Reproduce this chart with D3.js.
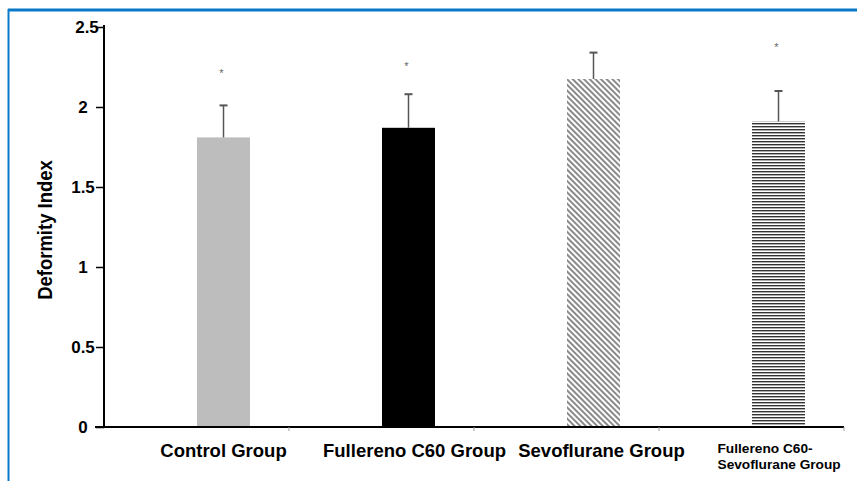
<!DOCTYPE html>
<html>
<head>
<meta charset="utf-8">
<script src="https://cdn.jsdelivr.net/npm/d3@7"></script>
<style>
  body { margin: 0; background: #fff; }
  svg { display: block; }
</style>
</head>
<body>
<svg id="chart" width="857" height="481"></svg>
<script>
// data
var groups = ["Control Group", "Fullereno C60 Group", "Sevoflurane Group", "Fullereno C60-Sevoflurane Group"];
var labelLines = [["Control Group"], ["Fullereno C60 Group"], ["Sevoflurane Group"], ["Fullereno C60-", "Sevoflurane Group"]];
var means = [1.81, 1.87, 2.175, 1.91];
var errors = [0.20, 0.21, 0.165, 0.19];
var starred = [true, true, false, true];
var starY = [2.22, 2.26, null, 2.38];
var yTicks = [0, 0.5, 1, 1.5, 2, 2.5];
var yLabel = "Deformity Index";

var svg = d3.select("#chart");
var W = +svg.attr("width"), H = +svg.attr("height");

// frame (top and left blue rule)
svg.append("line").attr("x1", 8).attr("x2", W).attr("y1", 10).attr("y2", 10)
  .style("stroke", "#0a78c8").style("stroke-width", 3);
svg.append("line").attr("x1", 8.5).attr("x2", 8.5).attr("y1", 9).attr("y2", H)
  .style("stroke", "#0a78c8").style("stroke-width", 2);

var defs = svg.append("defs");
var diag = defs.append("pattern").attr("id", "diag")
  .attr("patternUnits", "userSpaceOnUse").attr("width", 4).attr("height", 4)
  .attr("patternTransform", "rotate(-45)");
diag.append("rect").attr("width", 4).attr("height", 4).attr("fill", "#fff");
diag.append("rect").attr("x", 0).attr("width", 2).attr("height", 4).attr("fill", "#8a8a8a");

var horiz = defs.append("pattern").attr("id", "horiz")
  .attr("patternUnits", "userSpaceOnUse").attr("width", 4).attr("height", 3);
horiz.append("rect").attr("width", 4).attr("height", 3).attr("fill", "#fff");
horiz.append("rect").attr("y", 0).attr("width", 4).attr("height", 1.4).attr("fill", "#333");

var fills = ["#bdbdbd", "#000", "url(#diag)", "url(#horiz)"];

var y = d3.scaleLinear().domain([0, 2.5]).range([427, 27]);
var x = d3.scaleBand().domain(groups).range([131, 871]);
var barW = 53;

var font = "Arial, 'Liberation Sans', sans-serif";

// y axis
var yAxis = svg.append("g").attr("transform", "translate(104,0)")
  .call(d3.axisLeft(y).tickValues(yTicks).tickSize(8)
        .tickFormat(function(d){ return d; }));
yAxis.select(".domain").attr("d", "M0," + (y(2.5) - 2) + "V" + (y(0) + 1))
  .style("stroke", "#000").style("stroke-width", 2);
yAxis.selectAll(".tick line").style("stroke", "#000").style("stroke-width", 1.5);
// labels in the original are roughly centred in a column left of the ticks
yAxis.selectAll(".tick text")
  .attr("x", -21).attr("text-anchor", "middle")
  .style("font-family", font).style("font-size", "17px").style("font-weight", "bold")
  .attr("fill", "#000");
yAxis.selectAll(".tick").filter(function(d){ return d === 2.5; }).select("text").attr("x", -17);

svg.append("text")
  .attr("transform", "translate(52,230) rotate(-90) scale(0.88,1)")
  .attr("text-anchor", "middle")
  .style("font-family", font)
  .style("font-size", "21px").style("font-weight", "bold")
  .text(yLabel);

// bars
var bars = svg.append("g");
groups.forEach(function(g, i) {
  var cx = x(g) + x.bandwidth() / 2;
  bars.append("rect")
    .attr("x", cx - barW / 2).attr("y", y(means[i]))
    .attr("width", barW).attr("height", y(0) - y(means[i]))
    .attr("fill", fills[i]);
  // error bar (upper only)
  bars.append("line").attr("x1", cx).attr("x2", cx)
    .attr("y1", y(means[i])).attr("y2", y(means[i] + errors[i]))
    .style("stroke", "#555").style("stroke-width", 1.5);
  bars.append("line").attr("x1", cx - 4).attr("x2", cx + 4)
    .attr("y1", y(means[i] + errors[i])).attr("y2", y(means[i] + errors[i]))
    .style("stroke", "#555").style("stroke-width", 2);
  if (starred[i]) {
    bars.append("text").attr("x", cx - 2).attr("y", y(starY[i]) + 5)
      .attr("text-anchor", "middle")
      .style("font-family", font).style("font-size", "11px").attr("fill", "#666")
      .text("*");
  }
});

// x axis
svg.append("line").attr("x1", 95).attr("x2", 844).attr("y1", y(0)).attr("y2", y(0))
  .style("stroke", "#000").style("stroke-width", 2);
groups.forEach(function(g, i) {
  var tx = x(g) - 27 + x.bandwidth();
  svg.append("line").attr("x1", tx).attr("x2", tx).attr("y1", y(0)).attr("y2", y(0) + 4)
    .style("stroke", "#999").style("stroke-width", 1);
});

// category labels
var labelShift = [0, 6, 8, 0];
groups.forEach(function(g, i) {
  var cx = x(g) + x.bandwidth() / 2;
  var lines = labelLines[i];
  if (lines.length === 1) {
    svg.append("text").attr("x", cx + labelShift[i]).attr("y", 457)
      .attr("text-anchor", "middle")
      .style("font-family", font).style("font-size", "18.5px").style("font-weight", "bold")
      .text(lines[0]);
  } else {
    var t = svg.append("text").attr("x", cx - 61).attr("y", 453)
      .style("font-family", font).style("font-size", "13.7px").style("font-weight", "bold");
    lines.forEach(function(l, k) {
      t.append("tspan").attr("x", cx - 61).attr("dy", k === 0 ? 0 : 15.5).text(l);
    });
  }
});
</script>
</body>
</html>
